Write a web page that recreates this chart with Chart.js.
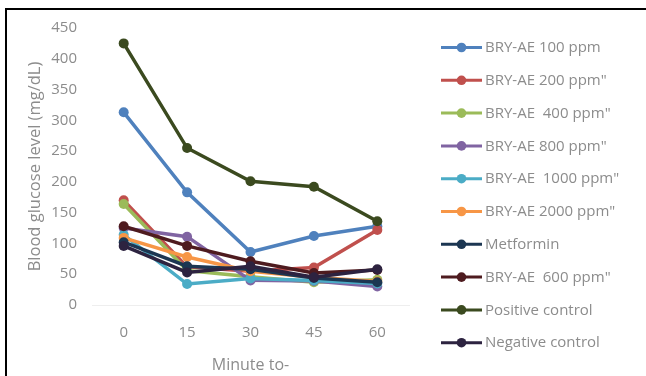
<!DOCTYPE html>
<html>
<head>
<meta charset="utf-8">
<script src="https://cdn.jsdelivr.net/npm/chart.js@4/dist/chart.umd.min.js"></script>
<style>
  html, body { margin:0; padding:0; background:#fff; overflow:hidden; }
  #frame { position:absolute; left:5px; top:8px; width:1000px; height:1000px; border-top:2px solid #000; border-left:2px solid #000; }
  #wrap { position:absolute; left:0; top:0; width:646px; height:376px; }
</style>
</head>
<body>
<div id="frame"></div>
<div id="wrap"><canvas id="c" width="646" height="376"></canvas></div>
<script>
const minutes = ['0', '15', '30', '45', '60'];
const seriesNames = ['BRY-AE 100 ppm', 'BRY-AE 200 ppm"', 'BRY-AE  400 ppm"', 'BRY-AE 800 ppm"', 'BRY-AE  1000 ppm"', 'BRY-AE 2000 ppm"', 'Metformin', 'BRY-AE  600 ppm"', 'Positive control', 'Negative control'];
const bry100   = [313, 183, 86, 112, 128];
const bry200   = [170, 62, 55, 61, 122];
const bry400   = [164, 56, 46, 37, 41];
const bry800   = [125, 111, 40, 39, 30];
const bry1000  = [114, 34, 43, 40, 35];
const bry2000  = [109, 78, 55, 45, 38];
const metformin = [102, 63, 58, 44, 37];
const bry600   = [128, 96, 71, 52, 57];
const positive = [425, 255, 201, 192, 136];
const negative = [96, 53, 63, 45, 58];
const yTicksMax = 450;
const yTickStep = 50;

const seriesValues = [bry100, bry200, bry400, bry800, bry1000, bry2000, metformin, bry600, positive, negative];
const colors = ['#4F81BD', '#C0504D', '#9BBB59', '#8064A2', '#4BACC6', '#F79646', '#1C3652', '#4E1B1F', '#3B4A1F', '#2D2340'];

const FONT = "'Open Sans', 'DejaVu Sans', sans-serif";
const GRAY = '#8c8c8c';

const legendPlugin = {
  id: 'sideLegend',
  afterDraw(chart) {
    const ctx = chart.ctx;
    ctx.save();
    const ds = chart.data.datasets;
    for (let i = 0; i < ds.length; i++) {
      const y = 47.5 + i * 32.8;
      ctx.strokeStyle = ds[i].borderColor;
      ctx.lineWidth = 3;
      ctx.beginPath();
      ctx.moveTo(441, y);
      ctx.lineTo(482, y);
      ctx.stroke();
      ctx.fillStyle = ds[i].borderColor;
      ctx.beginPath();
      ctx.arc(461.5, y, 4.8, 0, Math.PI * 2);
      ctx.fill();
      ctx.fillStyle = GRAY;
      ctx.font = "15px " + FONT;
      ctx.textBaseline = 'middle';
      ctx.textAlign = 'left';
      ctx.fillText(ds[i].label, 485, y + 0.5);
    }
    ctx.restore();
  }
};

const n = seriesValues.length;
new Chart(document.getElementById('c'), {
  type: 'line',
  data: {
    labels: minutes,
    datasets: seriesValues.map((vals, i) => ({
      label: seriesNames[i],
      data: vals,
      borderColor: colors[i],
      backgroundColor: colors[i],
      pointBackgroundColor: colors[i],
      pointBorderColor: colors[i],
      borderWidth: 3.5,
      pointRadius: 5,
      pointBorderWidth: 0,
      tension: 0,
      fill: false,
      order: n - 1 - i
    }))
  },
  options: {
    responsive: false,
    animation: false,
    events: [],
    layout: { padding: { left: 0, right: 237, top: 28, bottom: 0 } },
    plugins: { legend: { display: false }, tooltip: { enabled: false } },
    scales: {
      x: {
        offset: true,
        grid: { display: false, drawTicks: false },
        border: { display: true, color: '#eeeeee', width: 1 },
        ticks: { color: GRAY, font: { family: FONT, size: 15 }, padding: 19 },
        title: { display: true, text: 'Minute to-', color: GRAY, font: { family: FONT, size: 16 }, padding: { top: 4, bottom: 1 } },
        afterFit(scale) { scale.height = 71; }
      },
      y: {
        min: 0,
        max: yTicksMax,
        grid: { display: false, drawTicks: false },
        border: { display: false },
        ticks: { stepSize: yTickStep, color: GRAY, font: { family: FONT, size: 15 }, padding: 15 },
        title: { display: true, text: 'Blood glucose level (mg/dL)', color: GRAY, font: { family: FONT, size: 16.5 }, padding: { top: 25, bottom: 0 } },
        afterFit(scale) { scale.width = 92; }
      }
    }
  },
  plugins: [legendPlugin]
});
</script>
</body>
</html>
